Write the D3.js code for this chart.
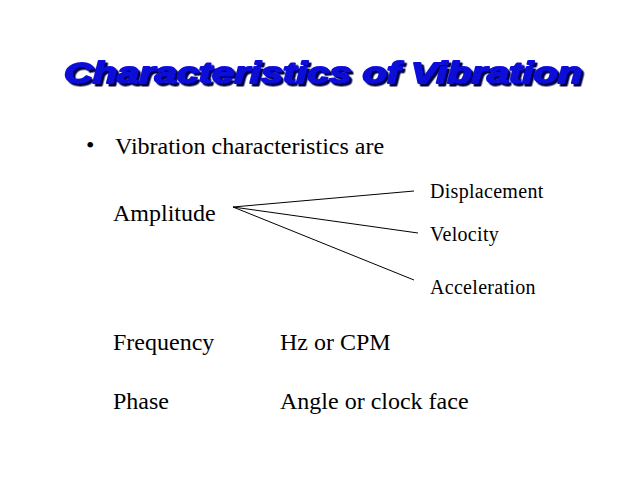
<!DOCTYPE html>
<html>
<head>
<meta charset="utf-8">
<script src="https://cdn.jsdelivr.net/npm/d3@7"></script>
<style>
  html, body { margin: 0; padding: 0; background: #fff; }
  svg { display: block; }
</style>
</head>
<body>
<div id="slide"></div>
<script>
// slide content
var title = "Characteristics of Vibration";
var bulletText = "Vibration characteristics are";
var properties = ["Amplitude", "Frequency", "Phase"];
var units = ["", "Hz or CPM", "Angle or clock face"];
var amplitudeKinds = ["Displacement", "Velocity", "Acceleration"];

var width = 638,
    height = 479;

var svg = d3.select("#slide")
    .append("svg")
    .attr("width", width)
    .attr("height", height);

svg.append("rect")
    .attr("width", width)
    .attr("height", height)
    .attr("fill", "#fff");

// drop shadow for the title
var shadow = svg.append("defs")
    .append("filter")
    .attr("id", "shadow")
    .attr("x", "-5%").attr("y", "-20%")
    .attr("width", "110%").attr("height", "150%");
shadow.append("feDropShadow")
    .attr("dx", 2.5)
    .attr("dy", 2.5)
    .attr("stdDeviation", 0.4)
    .attr("flood-color", "#000048")
    .attr("flood-opacity", 1);

svg.append("text")
    .attr("x", 64)
    .attr("y", 83)
    .attr("font-family", "'Liberation Sans', Arial, sans-serif")
    .attr("font-weight", "bold")
    .attr("font-style", "italic")
    .attr("font-size", 29)
    .attr("textLength", 518)
    .attr("lengthAdjust", "spacingAndGlyphs")
    .attr("fill", "#0808d8")
    .attr("stroke", "#0808d8")
    .attr("stroke-width", 1.8)
    .attr("stroke-linejoin", "round")
    .attr("filter", "url(#shadow)")
    .text(title);

var body = svg.append("g")
    .attr("font-family", "'Liberation Serif', 'Times New Roman', serif")
    .attr("fill", "#000");

body.append("text")
    .attr("x", 86)
    .attr("y", 153)
    .attr("font-size", 24)
    .text("\u2022");

body.append("text")
    .attr("x", 115)
    .attr("y", 154)
    .attr("font-size", 24)
    .text(bulletText);

// rows: Amplitude / Frequency / Phase
var rowY = d3.scaleOrdinal()
    .domain(properties)
    .range([221, 350, 409]);

body.selectAll(".prop")
    .data(properties)
    .enter()
    .append("text")
    .attr("class", "prop")
    .attr("x", 113)
    .attr("y", function(d) { return rowY(d); })
    .attr("font-size", 24)
    .text(function(d) { return d; });

body.selectAll(".unit")
    .data(properties)
    .enter()
    .append("text")
    .attr("class", "unit")
    .attr("x", 280)
    .attr("y", function(d) { return rowY(d); })
    .attr("font-size", 24)
    .text(function(d, i) { return units[i]; });

// branches from Amplitude
var branchY = d3.scaleOrdinal()
    .domain(amplitudeKinds)
    .range([198, 241, 294]);
var lineEndY = d3.scaleOrdinal()
    .domain(amplitudeKinds)
    .range([191, 233, 280]);

var origin = [233, 207];

svg.selectAll(".branch")
    .data(amplitudeKinds)
    .enter()
    .append("line")
    .attr("class", "branch")
    .attr("x1", origin[0])
    .attr("y1", origin[1])
    .attr("x2", function(d, i) { return i == 1 ? 418 : 414; })
    .attr("y2", function(d) { return lineEndY(d); })
    .attr("stroke", "#000")
    .attr("stroke-width", 1);

body.selectAll(".kind")
    .data(amplitudeKinds)
    .enter()
    .append("text")
    .attr("class", "kind")
    .attr("x", 430)
    .attr("y", function(d) { return branchY(d); })
    .attr("font-size", 20)
    .attr("letter-spacing", 0.3)
    .text(function(d) { return d; });
</script>
</body>
</html>
